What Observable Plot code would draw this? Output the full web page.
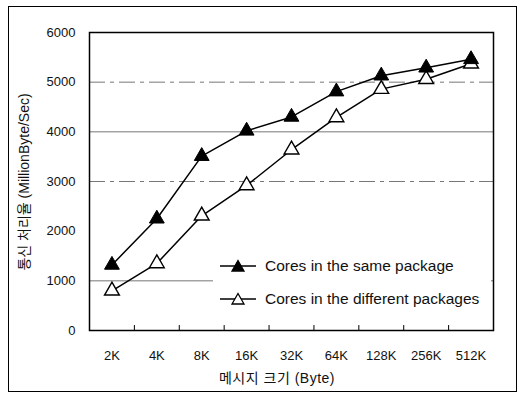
<!DOCTYPE html>
<html><head><meta charset="utf-8">
<script src="https://cdn.jsdelivr.net/npm/d3@7"></script>
<script src="https://cdn.jsdelivr.net/npm/@observablehq/plot@0.6"></script>
<style>
body{margin:0;background:#fff;font-family:"Liberation Sans","Noto Sans CJK KR",sans-serif;}
#wrap{position:relative;width:521px;height:397px;}
#frame{position:absolute;left:8px;top:6px;width:509px;height:386px;border:1.5px solid #000;box-sizing:border-box;}
#legend{position:absolute;left:213px;top:250px;width:278px;height:64px;background:#fff;font-size:15.5px;color:#111;}
.row{position:absolute;left:6px;display:flex;align-items:center;gap:8px;}
</style></head>
<body><div id="wrap"><div id="frame"></div></div>
<script>
const categories = ["2K","4K","8K","16K","32K","64K","128K","256K","512K"];
const samePackage = [1320, 2250, 3510, 4020, 4300, 4810, 5130, 5290, 5460];
const diffPackages = [800, 1350, 2310, 2920, 3640, 4290, 4860, 5060, 5370];
const seriesNames = ["Cores in the same package", "Cores in the different packages"];
const yTicks = [0, 1000, 2000, 3000, 4000, 5000, 6000];
const solidGrid = [1000, 4000];
const dashedGrid = [3000, 5000];

const data = [];
categories.forEach((c, i) => {
  data.push({i, v: samePackage[i], s: seriesNames[0]});
  data.push({i, v: diffPackages[i], s: seriesNames[1]});
});
const bounds = categories.slice(1).map((c, i) => i + 0.5);

const plot = Plot.plot({
  width: 521, height: 397,
  marginLeft: 89, marginRight: 28, marginTop: 32, marginBottom: 67,
  style: {fontFamily: '"Liberation Sans","Noto Sans CJK KR",sans-serif', fontSize: "13px", color: "#111", background: "transparent"},
  x: {domain: [-0.5, categories.length - 0.5]},
  y: {domain: [0, 6000]},
  marks: [
    Plot.ruleY(solidGrid, {stroke: "#777", strokeWidth: 1}),
    Plot.ruleY(dashedGrid, {stroke: "#777", strokeWidth: 1, strokeDasharray: "16,5,4,5"}),
    Plot.frame({stroke: "#000", strokeWidth: 1.5}),
    Plot.axisY({ticks: yTicks, tickFormat: d => String(d), tickSize: 0, tickPadding: 14, label: null, fontSize: 13}),
    Plot.axisX({ticks: categories.map((c, i) => i), tickFormat: i => categories[i], tickSize: 0, tickPadding: 20, label: null, fontSize: 13}),
    Plot.ruleX(bounds, {x: d => d, y1: 0, y2: 100, stroke: "#000", strokeWidth: 1}),
    Plot.line(data, {x: "i", y: "v", z: "s", stroke: "#000", strokeWidth: 1.5}),
    Plot.dot(data.filter(d => d.s === seriesNames[1]), {x: "i", y: "v", symbol: "triangle", r: 5.5, fill: "#fff", stroke: "#000", strokeWidth: 1.4}),
    Plot.dot(data.filter(d => d.s === seriesNames[0]), {x: "i", y: "v", symbol: "triangle", r: 5.5, fill: "#000", stroke: "#000", strokeWidth: 1})
  ]
});
plot.style.position = "absolute";
plot.style.left = "0px";
plot.style.top = "0px";
const wrap = document.getElementById("wrap");
wrap.appendChild(plot);

// Legend overlay
const leg = document.createElement("div");
leg.id = "legend";
const mk = (fill, top, name) => `<div class="row" style="top:${top}px"><svg width="38" height="14"><line x1="1" y1="7" x2="37" y2="7" stroke="#000" stroke-width="1.5"/><path d="M19,1.5 L25,12 L13,12 Z" fill="${fill}" stroke="#000" stroke-width="1.3"/></svg><span>${name}</span></div>`;
leg.innerHTML = mk("#000", 7, seriesNames[0]) + mk("#fff", 40, seriesNames[1]);
wrap.appendChild(leg);

// Axis titles
const yl = document.createElement("div");
yl.textContent = "통신 처리율 (MillionByte/Sec)";
Object.assign(yl.style, {position:"absolute", left:"23px", top:"182px", transform:"translate(-50%,-50%) rotate(-90deg)", whiteSpace:"nowrap", fontSize:"14px", color:"#111"});
wrap.appendChild(yl);
const xl = document.createElement("div");
xl.textContent = "메시지 크기 (Byte)";
Object.assign(xl.style, {position:"absolute", left:"277px", top:"377px", transform:"translate(-50%,-50%)", whiteSpace:"nowrap", fontSize:"14px", color:"#111", letterSpacing:"0.5px"});
wrap.appendChild(xl);
</script></body></html>
